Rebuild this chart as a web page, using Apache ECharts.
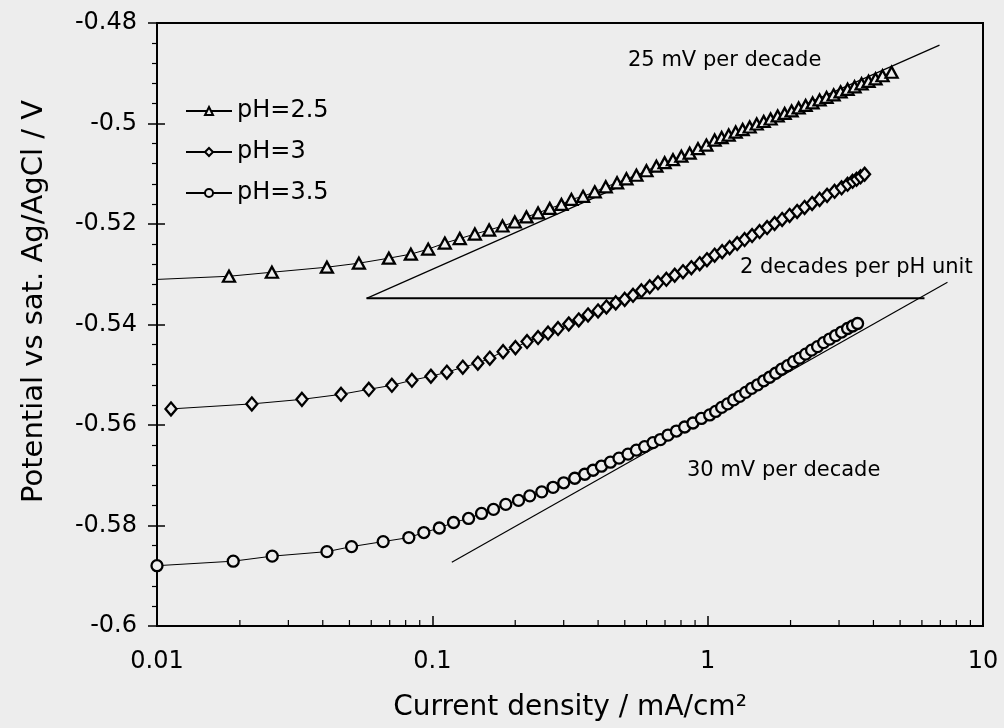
<!DOCTYPE html>
<html>
<head>
<meta charset="utf-8">
<script src="https://cdn.jsdelivr.net/npm/echarts@6/dist/echarts.min.js"></script>
<style>
  html, body { margin: 0; padding: 0; background: #ededed; }
  #main { width: 1004px; height: 728px; }
</style>
</head>
<body>
<div id="main"></div>
<script>
// 数据：电流密度 (mA/cm2) 与电位 (V)
var currentPH25 = [0.0085, 0.01826, 0.02614, 0.04141, 0.05411, 0.06952, 0.08356, 0.0966, 0.1110, 0.1258,
    0.1427, 0.1608, 0.1798, 0.1993, 0.2197, 0.2421, 0.2670, 0.2944, 0.3200, 0.3527,
    0.3889, 0.4264, 0.4687, 0.5069, 0.5511, 0.5993, 0.6514, 0.6979, 0.7482, 0.8027,
    0.8603, 0.9222, 0.9892, 1.060, 1.124, 1.192, 1.264, 1.340, 1.421, 1.507,
    1.598, 1.693, 1.796, 1.904, 2.018, 2.140, 2.269, 2.405, 2.550, 2.703,
    2.867, 3.039, 3.222, 3.416, 3.622, 3.840, 4.071, 4.317, 4.656];
var potentialPH25 = [-0.5312, -0.5304, -0.5296, -0.5286, -0.5278, -0.5268, -0.5260, -0.5250, -0.5238, -0.5229,
    -0.5220, -0.5212, -0.5204, -0.5196, -0.5186, -0.5178, -0.5169, -0.5161, -0.5151, -0.5145,
    -0.5136, -0.5126, -0.5118, -0.5110, -0.5103, -0.5094, -0.5085, -0.5078, -0.5072, -0.5065,
    -0.5059, -0.5050, -0.5043, -0.5033, -0.5028, -0.5023, -0.5017, -0.5012, -0.5007, -0.5001,
    -0.4996, -0.4991, -0.4985, -0.4980, -0.4975, -0.4969, -0.4964, -0.4959, -0.4953, -0.4948,
    -0.4943, -0.4937, -0.4932, -0.4927, -0.4921, -0.4916, -0.4911, -0.4905, -0.4898];

var currentPH3 = [0.01124, 0.0221, 0.0336, 0.0466, 0.0588, 0.0713, 0.0843, 0.0988, 0.1129, 0.1290,
    0.1463, 0.1617, 0.1807, 0.2004, 0.2208, 0.2421, 0.2632, 0.2861, 0.3129, 0.3402,
    0.3677, 0.3998, 0.4288, 0.4636, 0.4996, 0.5357, 0.5745, 0.6161, 0.6601, 0.7080,
    0.7590, 0.8135, 0.8725, 0.9355, 0.9942, 1.060, 1.129, 1.202, 1.280, 1.362,
    1.450, 1.544, 1.644, 1.750, 1.864, 1.984, 2.113, 2.249, 2.395, 2.550,
    2.715, 2.891, 3.065, 3.222, 3.360, 3.474, 3.592, 3.715];
var potentialPH3 = [-0.5568, -0.5558, -0.5549, -0.5539, -0.5529, -0.5521, -0.5511, -0.5503, -0.5495, -0.5485,
    -0.5477, -0.5467, -0.5454, -0.5446, -0.5434, -0.5426, -0.5417, -0.5408, -0.5399, -0.5391,
    -0.5381, -0.5373, -0.5365, -0.5357, -0.5350, -0.5342, -0.5333, -0.5325, -0.5317, -0.5310,
    -0.5302, -0.5295, -0.5287, -0.5279, -0.5271, -0.5262, -0.5255, -0.5247, -0.5239, -0.5231,
    -0.5223, -0.5215, -0.5207, -0.5199, -0.5191, -0.5183, -0.5175, -0.5167, -0.5159, -0.5151,
    -0.5143, -0.5135, -0.5128, -0.5121, -0.5115, -0.5111, -0.5106, -0.5101];

var currentPH35 = [0.01, 0.01892, 0.02621, 0.04141, 0.05089, 0.06629, 0.08216, 0.09314, 0.1060, 0.1194,
    0.1354, 0.1509, 0.1668, 0.1848, 0.2056, 0.2259, 0.2497, 0.2745, 0.3001, 0.3291,
    0.3577, 0.3835, 0.4113, 0.4435, 0.4764, 0.5137, 0.5511, 0.5904, 0.6333, 0.6735,
    0.7177, 0.7700, 0.8250, 0.8843, 0.9487, 1.017, 1.069, 1.124, 1.182, 1.243,
    1.307, 1.374, 1.444, 1.519, 1.598, 1.679, 1.766, 1.856, 1.952, 2.052,
    2.158, 2.269, 2.385, 2.507, 2.637, 2.773, 2.915, 3.065, 3.222, 3.360, 3.503];
var potentialPH35 = [-0.5880, -0.5871, -0.5861, -0.5852, -0.5842, -0.5832, -0.5824, -0.5814, -0.5805, -0.5794,
    -0.5786, -0.5776, -0.5768, -0.5758, -0.5750, -0.5741, -0.5733, -0.5724, -0.5715, -0.5706,
    -0.5698, -0.5690, -0.5682, -0.5674, -0.5666, -0.5658, -0.5650, -0.5643, -0.5635, -0.5629,
    -0.5620, -0.5612, -0.5604, -0.5596, -0.5587, -0.5580, -0.5573, -0.5565, -0.5558, -0.5550,
    -0.5543, -0.5535, -0.5527, -0.5520, -0.5512, -0.5505, -0.5497, -0.5489, -0.5482, -0.5474,
    -0.5467, -0.5459, -0.5451, -0.5444, -0.5436, -0.5429, -0.5422, -0.5415, -0.5408, -0.5403, -0.5398];

// 斜率参考线 (端点)
var slope25Line = [[0.0577, -0.5348], [6.95, -0.4844]];
var pHShiftLine = [[0.0577, -0.5348], [6.13, -0.5348]];
var slope30Line = [[0.1177, -0.5873], [7.43, -0.5316]];

// 对数坐标次刻度
var logMinorTicks = [0.02, 0.03, 0.04, 0.05, 0.06, 0.07, 0.08, 0.09,
    0.2, 0.3, 0.4, 0.5, 0.6, 0.7, 0.8, 0.9,
    2, 3, 4, 5, 6, 7, 8, 9];

var seriesNames = ['pH=2.5', 'pH=3', 'pH=3.5'];

var ink = '#000';
var paper = '#ededed';
var font = 'DejaVu Sans';

var zip = function (xs, ys) {
    var out = [];
    for (var i = 0; i < xs.length; i++) {
        out.push([xs[i], ys[i]]);
    }
    return out;
};

var dataSeries = function (name, xs, ys, symbol, size) {
    return {
        name: name,
        type: 'line',
        data: zip(xs, ys),
        symbol: symbol,
        symbolSize: size,
        clip: true,
        z: 3,
        lineStyle: { color: ink, width: 1 },
        itemStyle: { color: paper, borderColor: ink, borderWidth: 2.3 }
    };
};

var refLine = function (pts, w) {
    return {
        type: 'line',
        data: pts,
        symbol: 'none',
        silent: true,
        z: 2,
        lineStyle: { color: ink, width: w }
    };
};

var chart = echarts.init(document.getElementById('main'));

var option = {
    backgroundColor: paper,
    animation: false,
    grid: {
        left: 157, right: 21, top: 23, bottom: 102,
        show: true, borderColor: ink, borderWidth: 2,
        outerBoundsMode: 'none'
    },
    legend: {
        data: seriesNames,
        orient: 'vertical',
        left: 180,
        top: 94,
        itemGap: 17,
        itemWidth: 46,
        itemHeight: 10,
        textStyle: { color: ink, fontSize: 24, fontFamily: font }
    },
    xAxis: {
        type: 'log',
        logBase: 10,
        min: 0.01,
        max: 10,
        name: 'Current density / mA/cm²',
        nameLocation: 'middle',
        nameGap: 68,
        nameTextStyle: { color: ink, fontSize: 28, fontFamily: font },
        axisLine: { lineStyle: { color: ink, width: 2 } },
        axisTick: { inside: true, length: 10, lineStyle: { color: ink, width: 1.5 } },
        axisLabel: { color: ink, fontSize: 24, fontFamily: font, margin: 24 },
        splitLine: { show: false }
    },
    yAxis: [{
        type: 'value',
        min: -0.6,
        max: -0.48,
        interval: 0.02,
        name: 'Potential vs sat. Ag/AgCl / V',
        nameLocation: 'middle',
        nameGap: 108,
        nameTextStyle: { color: ink, fontSize: 29, fontFamily: font, padding: [0, 0, 0, 46] },
        axisLine: { lineStyle: { color: ink, width: 2 } },
        axisTick: { inside: false, length: 9, lineStyle: { color: ink, width: 1.5 } },
        minorTick: { show: true, splitNumber: 5, length: 5, lineStyle: { color: ink, width: 1.2 } },
        axisLabel: {
            color: ink, fontSize: 24, fontFamily: font, margin: 20,
            formatter: function (v) { return String(Number(v.toFixed(2))); }
        },
        splitLine: { show: false },
        minorSplitLine: { show: false }
    }, {
        // 内侧主刻度，与外侧刻度形成贯穿效果
        type: 'value',
        position: 'left',
        min: -0.6,
        max: -0.48,
        interval: 0.02,
        axisLine: { show: false },
        axisTick: { inside: true, length: 8, lineStyle: { color: ink, width: 1.5 } },
        axisLabel: { show: false },
        splitLine: { show: false }
    }],
    graphic: [
        { type: 'text', left: 628, top: 50, style: { text: '25 mV per decade', fontSize: 21, fontFamily: font, fill: ink } },
        { type: 'text', left: 740, top: 257, style: { text: '2 decades per pH unit', fontSize: 21, fontFamily: font, fill: ink } },
        { type: 'text', left: 687, top: 460, style: { text: '30 mV per decade', fontSize: 21, fontFamily: font, fill: ink } }
    ],
    series: [
        dataSeries(seriesNames[0], currentPH25, potentialPH25, 'triangle', [12, 11]),
        dataSeries(seriesNames[1], currentPH3, potentialPH3, 'diamond', [11, 13]),
        dataSeries(seriesNames[2], currentPH35, potentialPH35, 'circle', 11),
        refLine(slope25Line, 1.2),
        refLine(pHShiftLine, 2),
        refLine(slope30Line, 1.2),
        {
            type: 'custom',
            silent: true,
            clip: false,
            data: logMinorTicks.map(function (v) { return [v, -0.6]; }),
            renderItem: function (params, api) {
                var p = api.coord([api.value(0), api.value(1)]);
                return {
                    type: 'line',
                    shape: { x1: p[0], y1: p[1], x2: p[0], y2: p[1] - 6 },
                    style: { stroke: ink, lineWidth: 1.2 }
                };
            }
        }
    ]
};

chart.setOption(option);
</script>
</body>
</html>
